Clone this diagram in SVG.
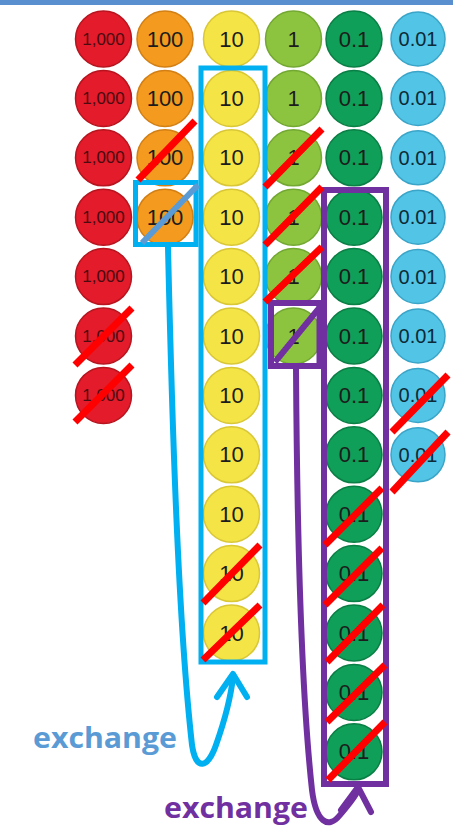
<svg xmlns="http://www.w3.org/2000/svg" width="453" height="826" viewBox="0 0 453 826">
<style>
.c{stroke-width:1.5}
.r{fill:#E31B2A;stroke:#B8141F}
.o{fill:#F49A1F;stroke:#D27F14}
.y{fill:#F4E446;stroke:#D9C736}
.lg{fill:#8DC43F;stroke:#73A832}
.dg{fill:#0F9F58;stroke:#0A7F45}
.lb{fill:#52C4E6;stroke:#3AA5C8}
.t{font-family:"Liberation Sans",Arial,sans-serif;text-anchor:middle;dominant-baseline:central;fill:#1c1c1c;font-size:22px}
.t1000{font-size:17px;fill:#4a0a10}
.t001{font-size:20px;fill:#0e2a36}
.strike{stroke:#FF0000;stroke-width:7;fill:none}
.bbox{stroke:#00B0F0;stroke-width:5;fill:none}
.pbox{stroke:#7030A0;stroke-width:6;fill:none}
.bline{stroke:#00B0F0;stroke-width:6;fill:none;stroke-linecap:round;stroke-linejoin:round}
.pline{stroke:#7030A0;stroke-width:6;fill:none;stroke-linecap:round;stroke-linejoin:round}
.lbl{font-family:"Open Sans","Liberation Sans",Arial,sans-serif;font-weight:700;font-size:28px}
</style>
<rect x="0" y="0" width="453" height="5" fill="#5A8FCF"/>

<g id="col-1000">
<g id="c1000-1"><circle class="c r" cx="103.5" cy="39" r="28"/><text class="t t1000" x="103.5" y="39">1,000</text></g>
<g id="c1000-2"><circle class="c r" cx="103.5" cy="98.4" r="28"/><text class="t t1000" x="103.5" y="98.4">1,000</text></g>
<g id="c1000-3"><circle class="c r" cx="103.5" cy="157.8" r="28"/><text class="t t1000" x="103.5" y="157.8">1,000</text></g>
<g id="c1000-4"><circle class="c r" cx="103.5" cy="217.2" r="28"/><text class="t t1000" x="103.5" y="217.2">1,000</text></g>
<g id="c1000-5"><circle class="c r" cx="103.5" cy="276.6" r="28"/><text class="t t1000" x="103.5" y="276.6">1,000</text></g>
<g id="c1000-6"><circle class="c r" cx="103.5" cy="336" r="28"/><text class="t t1000" x="103.5" y="336">1,000</text></g>
<g id="c1000-7"><circle class="c r" cx="103.5" cy="395.4" r="28"/><text class="t t1000" x="103.5" y="395.4">1,000</text></g>
</g>

<g id="col-100">
<g id="c100-1"><circle class="c o" cx="165" cy="39" r="28"/><text class="t" x="165" y="39">100</text></g>
<g id="c100-2"><circle class="c o" cx="165" cy="98.4" r="28"/><text class="t" x="165" y="98.4">100</text></g>
<g id="c100-3"><circle class="c o" cx="165" cy="157.8" r="28"/><text class="t" x="165" y="157.8">100</text></g>
<g id="c100-4"><circle class="c o" cx="165" cy="217.2" r="28"/><text class="t" x="165" y="217.2">100</text></g>
</g>

<g id="col-10">
<g id="c10-1"><circle class="c y" cx="231.5" cy="39" r="28"/><text class="t" x="231.5" y="39">10</text></g>
<g id="c10-2"><circle class="c y" cx="231.5" cy="98.4" r="28"/><text class="t" x="231.5" y="98.4">10</text></g>
<g id="c10-3"><circle class="c y" cx="231.5" cy="157.8" r="28"/><text class="t" x="231.5" y="157.8">10</text></g>
<g id="c10-4"><circle class="c y" cx="231.5" cy="217.2" r="28"/><text class="t" x="231.5" y="217.2">10</text></g>
<g id="c10-5"><circle class="c y" cx="231.5" cy="276.6" r="28"/><text class="t" x="231.5" y="276.6">10</text></g>
<g id="c10-6"><circle class="c y" cx="231.5" cy="336" r="28"/><text class="t" x="231.5" y="336">10</text></g>
<g id="c10-7"><circle class="c y" cx="231.5" cy="395.4" r="28"/><text class="t" x="231.5" y="395.4">10</text></g>
<g id="c10-8"><circle class="c y" cx="231.5" cy="454.8" r="28"/><text class="t" x="231.5" y="454.8">10</text></g>
<g id="c10-9"><circle class="c y" cx="231.5" cy="514.2" r="28"/><text class="t" x="231.5" y="514.2">10</text></g>
<g id="c10-10"><circle class="c y" cx="231.5" cy="573.6" r="28"/><text class="t" x="231.5" y="573.6">10</text></g>
<g id="c10-11"><circle class="c y" cx="231.5" cy="633" r="28"/><text class="t" x="231.5" y="633">10</text></g>
</g>

<g id="col-1">
<g id="c1-1"><circle class="c lg" cx="293.5" cy="39" r="28"/><text class="t" x="293.5" y="39">1</text></g>
<g id="c1-2"><circle class="c lg" cx="293.5" cy="98.4" r="28"/><text class="t" x="293.5" y="98.4">1</text></g>
<g id="c1-3"><circle class="c lg" cx="293.5" cy="157.8" r="28"/><text class="t" x="293.5" y="157.8">1</text></g>
<g id="c1-4"><circle class="c lg" cx="293.5" cy="217.2" r="28"/><text class="t" x="293.5" y="217.2">1</text></g>
<g id="c1-5"><circle class="c lg" cx="293.5" cy="276.6" r="28"/><text class="t" x="293.5" y="276.6">1</text></g>
<g id="c1-6"><circle class="c lg" cx="293.5" cy="336" r="28"/><text class="t" x="293.5" y="336">1</text></g>
</g>

<g id="col-01">
<g id="c01-1"><circle class="c dg" cx="354" cy="39" r="28"/><text class="t" x="354" y="39">0.1</text></g>
<g id="c01-2"><circle class="c dg" cx="354" cy="98.4" r="28"/><text class="t" x="354" y="98.4">0.1</text></g>
<g id="c01-3"><circle class="c dg" cx="354" cy="157.8" r="28"/><text class="t" x="354" y="157.8">0.1</text></g>
<g id="c01-4"><circle class="c dg" cx="354" cy="217.2" r="28"/><text class="t" x="354" y="217.2">0.1</text></g>
<g id="c01-5"><circle class="c dg" cx="354" cy="276.6" r="28"/><text class="t" x="354" y="276.6">0.1</text></g>
<g id="c01-6"><circle class="c dg" cx="354" cy="336" r="28"/><text class="t" x="354" y="336">0.1</text></g>
<g id="c01-7"><circle class="c dg" cx="354" cy="395.4" r="28"/><text class="t" x="354" y="395.4">0.1</text></g>
<g id="c01-8"><circle class="c dg" cx="354" cy="454.8" r="28"/><text class="t" x="354" y="454.8">0.1</text></g>
<g id="c01-9"><circle class="c dg" cx="354" cy="514.2" r="28"/><text class="t" x="354" y="514.2">0.1</text></g>
<g id="c01-10"><circle class="c dg" cx="354" cy="573.6" r="28"/><text class="t" x="354" y="573.6">0.1</text></g>
<g id="c01-11"><circle class="c dg" cx="354" cy="633" r="28"/><text class="t" x="354" y="633">0.1</text></g>
<g id="c01-12"><circle class="c dg" cx="354" cy="692.4" r="28"/><text class="t" x="354" y="692.4">0.1</text></g>
<g id="c01-13"><circle class="c dg" cx="354" cy="751.8" r="28"/><text class="t" x="354" y="751.8">0.1</text></g>
</g>

<g id="col-001">
<g id="c001-1"><circle class="c lb" cx="418" cy="39" r="27"/><text class="t t001" x="418" y="39">0.01</text></g>
<g id="c001-2"><circle class="c lb" cx="418" cy="98.4" r="27"/><text class="t t001" x="418" y="98.4">0.01</text></g>
<g id="c001-3"><circle class="c lb" cx="418" cy="157.8" r="27"/><text class="t t001" x="418" y="157.8">0.01</text></g>
<g id="c001-4"><circle class="c lb" cx="418" cy="217.2" r="27"/><text class="t t001" x="418" y="217.2">0.01</text></g>
<g id="c001-5"><circle class="c lb" cx="418" cy="276.6" r="27"/><text class="t t001" x="418" y="276.6">0.01</text></g>
<g id="c001-6"><circle class="c lb" cx="418" cy="336" r="27"/><text class="t t001" x="418" y="336">0.01</text></g>
<g id="c001-7"><circle class="c lb" cx="418" cy="395.4" r="27"/><text class="t t001" x="418" y="395.4">0.01</text></g>
<g id="c001-8"><circle class="c lb" cx="418" cy="454.8" r="27"/><text class="t t001" x="418" y="454.8">0.01</text></g>
</g>

<g id="boxes">
<rect id="box-10s" class="bbox" x="201" y="68" width="64" height="594"/>
<rect id="box-100" class="bbox" x="135.5" y="182.5" width="60.5" height="62"/>
<line x1="142" y1="243" x2="198" y2="185" stroke="#5B9BD5" stroke-width="6"/>
<rect id="box-01s" class="pbox" x="324" y="190" width="62" height="594"/>
<rect id="box-1" class="pbox" x="271" y="303" width="48.5" height="63"/>
<line x1="275" y1="362" x2="320" y2="307" stroke="#7030A0" stroke-width="6"/>
</g>

<g id="strikes">
<line class="strike" x1="138" y1="180" x2="195" y2="121"/>
<line class="strike" x1="265" y1="187" x2="322" y2="129"/>
<line class="strike" x1="265" y1="245" x2="322" y2="187"/>
<line class="strike" x1="265" y1="302" x2="322" y2="247"/>
<line class="strike" x1="75" y1="365" x2="132" y2="308"/>
<line class="strike" x1="75" y1="422" x2="132" y2="365"/>
<line class="strike" x1="203" y1="603" x2="260" y2="545"/>
<line class="strike" x1="203" y1="660" x2="260" y2="605"/>
<line class="strike" x1="325" y1="545" x2="382" y2="488"/>
<line class="strike" x1="325" y1="605" x2="382" y2="548"/>
<line class="strike" x1="327" y1="662" x2="383" y2="605"/>
<line class="strike" x1="327" y1="722" x2="385" y2="665"/>
<line class="strike" x1="328" y1="780" x2="385" y2="722"/>
<line class="strike" x1="392" y1="432" x2="448" y2="375"/>
<line class="strike" x1="392" y1="492" x2="448" y2="432"/>
</g>

<g id="connectors">
<path class="bline" d="M168,247 C172,420 178,620 192,745 C196,772 208,768 216,745 C222,728 230,705 233,677"/>
<polyline class="bline" points="217,697 233,674 247,697"/>
<path class="pline" d="M296,368 C297,520 300,680 312,790 C316,822 328,830 340,815 C348,805 355,798 358,790"/>
<polyline class="pline" points="341,810 358,787 371,812"/>
</g>

<g id="labels">
<text class="lbl" x="33" y="748" fill="#5B9BD5" textLength="144" lengthAdjust="spacingAndGlyphs">exchange</text>
<text class="lbl" x="164" y="818" fill="#7030A0" textLength="144" lengthAdjust="spacingAndGlyphs">exchange</text>
</g>
</svg>
